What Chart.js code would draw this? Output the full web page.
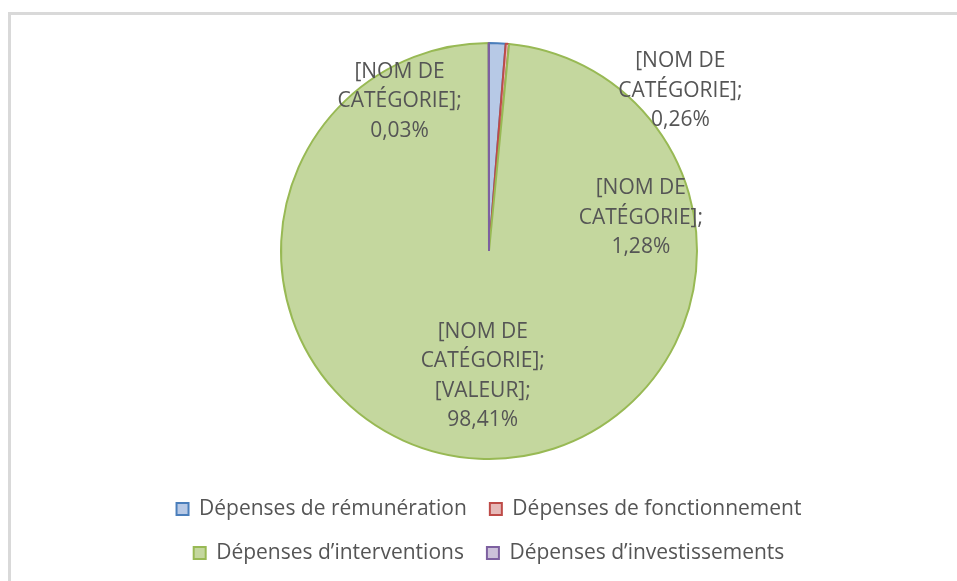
<!DOCTYPE html>
<html>
<head>
<meta charset="utf-8">
<script src="https://cdn.jsdelivr.net/npm/chart.js@4/dist/chart.umd.min.js"></script>
<style>
  body { margin:0; background:#fff; }
  #frame { position:absolute; left:8px; top:12px; width:1200px; height:900px; border:3px solid #d9d9d9; box-sizing:border-box; }
  #pie { position:absolute; left:0; top:0; }
</style>
</head>
<body>
<div id="frame"></div>
<canvas id="pie" width="957" height="581"></canvas>
<script>
const categories = ['Dépenses de rémunération', 'Dépenses de fonctionnement', 'Dépenses d\u2019interventions', 'Dépenses d\u2019investissements'];
const shares = [1.28, 0.26, 98.41, 0.03];
const labelTexts = [
  ['[NOM DE', 'CATÉGORIE];', '1,28%'],
  ['[NOM DE', 'CATÉGORIE];', '0,26%'],
  ['[NOM DE', 'CATÉGORIE];', '[VALEUR];', '98,41%'],
  ['[NOM DE', 'CATÉGORIE];', '0,03%'],
];

const fills   = ['#b7c9e6', '#e6b9b8', '#c4d79e', '#ccc1da'];
const borders = ['#4a7ebb', '#be4b48', '#98b954', '#7d60a0'];
// where excel dropped each label, in pie radii from the centre
const labelSpots = [[0.73, -0.16], [0.92, -0.77], [-0.03, 0.60], [-0.43, -0.72]];

const pieLabels = {
  id: 'pieLabels',
  afterDatasetsDraw(chart) {
    const arcs = chart.getDatasetMeta(0).data;
    const { x, y, outerRadius: r } = arcs[0];
    const ctx = chart.ctx;
    ctx.save();
    ctx.font = '21px "Open Sans"';
    ctx.fillStyle = '#555555';
    ctx.textAlign = 'center'; ctx.textBaseline = 'middle';
    labelTexts.forEach((lines, i) => {
      const cx = x + labelSpots[i][0] * r, cy = y + labelSpots[i][1] * r;
      const lh = 29.5, y0 = cy - (lines.length - 1) * lh / 2;
      lines.forEach((t, j) => ctx.fillText(t, cx, y0 + j * lh));
    });
    ctx.restore();
  }
};

new Chart(document.getElementById('pie'), {
  type: 'pie',
  data: {
    labels: categories,
    datasets: [{ data: shares, backgroundColor: fills, borderColor: borders, borderWidth: 2, radius: 208 }],
  },
  options: {
    responsive: false, animation: false,
    layout: { padding: { left: 89, right: 68, top: 26.5, bottom: 7.5 } },
    plugins: {
      tooltip: { enabled: false },
      legend: { position: 'bottom',
        labels: { color: '#555555', boxWidth: 12, boxHeight: 12, padding: 23, font: { size: 21, family: 'Open Sans' } } },
    },
  },
  plugins: [pieLabels],
});
</script>
</body>
</html>
